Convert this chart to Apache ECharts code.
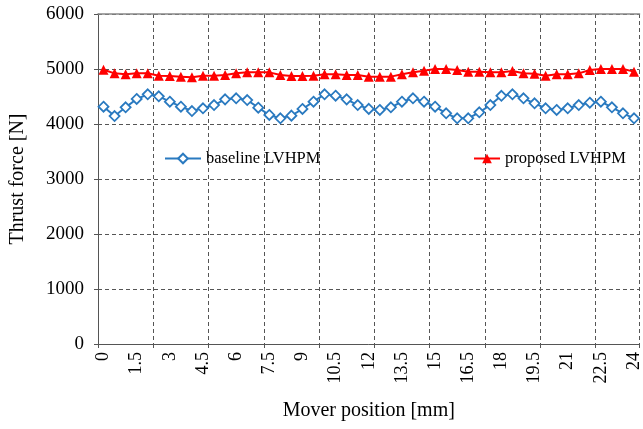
<!DOCTYPE html>
<html>
<head>
<meta charset="utf-8">
<script src="https://cdn.jsdelivr.net/npm/echarts@6/dist/echarts.min.js"></script>
<style>html,body{margin:0;padding:0;background:#fff;}#c{width:643px;height:429px;}</style>
</head>
<body>
<div id="c"></div>
<script>
// Mover position [mm], 0 to 24 in 0.5 mm steps
const positions = ['0','0.5','1','1.5','2','2.5','3','3.5','4','4.5','5','5.5','6','6.5','7','7.5','8','8.5','9','9.5','10','10.5','11','11.5','12','12.5','13','13.5','14','14.5','15','15.5','16','16.5','17','17.5','18','18.5','19','19.5','20','20.5','21','21.5','22','22.5','23','23.5','24'];
const baseline = [4315,4145,4303,4455,4540,4503,4406,4315,4236,4285,4345,4448,4467,4436,4297,4164,4103,4152,4273,4406,4540,4515,4448,4345,4275,4255,4303,4406,4467,4406,4315,4194,4103,4103,4212,4345,4512,4540,4467,4376,4285,4255,4285,4345,4388,4406,4303,4194,4103];
const proposed = [4985,4921,4903,4921,4921,4879,4873,4861,4848,4879,4879,4891,4921,4939,4939,4939,4891,4873,4873,4879,4903,4903,4891,4891,4861,4861,4861,4903,4939,4970,5000,5000,4982,4952,4952,4939,4939,4964,4921,4915,4879,4903,4903,4921,4982,5000,5000,5000,4952];
const yTicks = {min: 0, max: 6000, interval: 1000};
const seriesNames = ['baseline LVHPM', 'proposed LVHPM'];

const font = '"Liberation Serif", "Times New Roman", serif';
const chart = echarts.init(document.getElementById('c'), null, {renderer: 'canvas'});
const grid = {left: 97, right: 2, top: 14, bottom: 85};
chart.setOption({
  animation: false,
  backgroundColor: '#fff',
  grid: grid,
  legend: [
    {data: [seriesNames[0]], left: 159, top: 145, itemWidth: 36, itemHeight: 12, itemGap: 4,
     textStyle: {fontFamily: font, fontSize: 16.5, color: '#000'}},
    {data: [seriesNames[1]], left: 468, top: 145, itemWidth: 26, itemHeight: 12,
     textStyle: {fontFamily: font, fontSize: 16.5, color: '#000'}}
  ],
  xAxis: [{
    type: 'category',
    data: positions,
    boundaryGap: true,
    name: 'Mover position [mm]',
    nameLocation: 'middle',
    nameGap: 57,
    nameTextStyle: {fontFamily: font, fontSize: 20, color: '#000'},
    axisLine: {lineStyle: {color: '#555', width: 1}},
    axisTick: {show: true, interval: 4, length: 4, lineStyle: {color: '#555'}},
    axisLabel: {interval: 2, rotate: 90, fontFamily: font, fontSize: 18, color: '#000', margin: 8},
    splitLine: {show: true, interval: 4, lineStyle: {color: '#555', type: [4, 3], width: 1}}
  }, {
    type: 'category',
    data: positions,
    position: 'top',
    axisLine: {show: true, lineStyle: {color: '#888', width: 1.5}},
    axisTick: {show: false},
    axisLabel: {show: false},
    splitLine: {show: false}
  }],
  yAxis: {
    type: 'value',
    min: yTicks.min, max: yTicks.max, interval: yTicks.interval,
    name: 'Thrust force [N]',
    nameLocation: 'middle',
    nameGap: 70,
    nameTextStyle: {fontFamily: font, fontSize: 20, color: '#000'},
    axisLine: {show: true, lineStyle: {color: '#555', width: 1}},
    axisTick: {show: true, length: 4, lineStyle: {color: '#555'}},
    axisLabel: {fontFamily: font, fontSize: 19, color: '#000', margin: 14, formatter: function (v) { return String(v); }},
    splitLine: {show: true, lineStyle: {color: '#555', type: [4, 3], width: 1}}
  },
  series: [{
    name: seriesNames[0],
    type: 'line',
    data: baseline,
    symbol: 'diamond',
    symbolSize: 10,
    showAllSymbol: true,
    color: '#2a7ac0',
    lineStyle: {color: '#2a7ac0', width: 2},
    itemStyle: {color: '#fff', borderColor: '#2a7ac0', borderWidth: 1.8}
  }, {
    name: seriesNames[1],
    type: 'line',
    data: proposed,
    symbol: 'triangle',
    symbolSize: 10,
    showAllSymbol: true,
    color: '#ff0000',
    lineStyle: {color: '#ff0000', width: 2},
    itemStyle: {color: '#ff0000', borderColor: '#ff0000', borderWidth: 0}
  }]
});
</script>
</body>
</html>
